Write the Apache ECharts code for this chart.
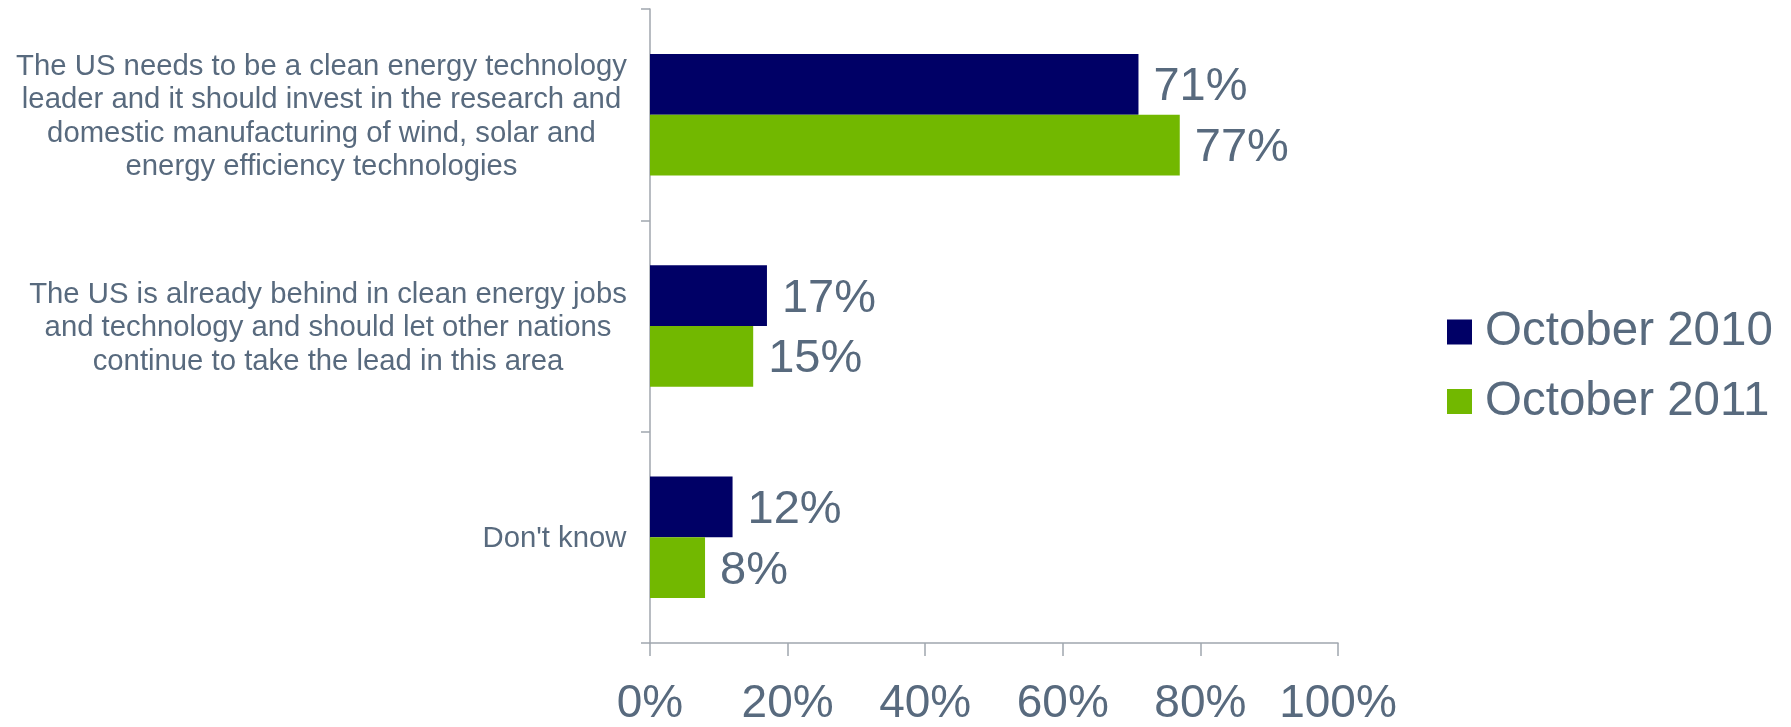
<!DOCTYPE html>
<html>
<head>
<meta charset="utf-8">
<script src="https://cdn.jsdelivr.net/npm/echarts@6/dist/echarts.min.js"></script>
<style>
  html, body { margin: 0; padding: 0; background: #ffffff; }
  #chart { width: 1791px; height: 727px; }
</style>
</head>
<body>
<div id="chart"></div>
<script>
// Survey answers (top to bottom), with explicit line breaks
const categories = [
  "The US needs to be a clean energy technology\nleader and it should invest in the research and\ndomestic manufacturing of wind, solar and\nenergy efficiency technologies",
  "The US is already behind in clean energy jobs\nand technology and should let other nations\ncontinue to take the lead in this area",
  "Don't know"
];
const seriesNames = ["October 2010", "October 2011"];
const oct2010 = [71, 17, 12];
const oct2011 = [77, 15, 8];
const xTicks = [0, 20, 40, 60, 80, 100];

const FONT = "'Liberation Sans', Arial, Helvetica, sans-serif";
const TEXT = '#586a7e';
const AXIS = '#a0a6ae';
const NAVY = '#000066';
const GREEN = '#72b800';
const CAT_SIZE = 29.3;

// Each category label is a right-aligned block whose lines are centred
// within the block; the block width is the widest line of that label.
const ctx = document.createElement('canvas').getContext('2d');
ctx.font = CAT_SIZE + "px 'Liberation Sans'";
const rich = {};
categories.forEach((c, i) => {
  const w = Math.max(...c.split('\n').map(s => ctx.measureText(s).width));
  rich['l' + i] = {
    width: Math.ceil(w) + 2,
    align: 'center',
    fontSize: CAT_SIZE,
    lineHeight: 33.5,
    fontFamily: FONT,
    color: TEXT
  };
});

const chart = echarts.init(document.getElementById('chart'), null, { renderer: 'canvas' });

const labelStyle = {
  show: true,
  position: 'right',
  distance: 15,
  offset: [0, 3],
  formatter: '{c}%',
  fontSize: 47,
  fontFamily: FONT,
  color: TEXT
};

chart.setOption({
  animation: false,
  backgroundColor: '#ffffff',
  grid: { left: 650, right: 453, top: 9, bottom: 77, containLabel: false },
  legend: {
    orient: 'vertical',
    left: 1447,
    top: 308,
    padding: 0,
    itemWidth: 25,
    itemHeight: 25,
    itemGap: 21.5,
    icon: 'rect',
    textStyle: { fontSize: 47.5, fontFamily: FONT, color: TEXT, padding: [0, 0, 0, 8] },
    data: seriesNames
  },
  xAxis: {
    type: 'value',
    min: xTicks[0],
    max: xTicks[xTicks.length - 1],
    interval: xTicks[1] - xTicks[0],
    axisLine: { show: true, lineStyle: { color: AXIS, width: 1.5 } },
    axisTick: { show: true, length: 13, lineStyle: { color: AXIS, width: 1.5 } },
    splitLine: { show: false },
    axisLabel: {
      margin: 38,
      fontSize: 46,
      fontFamily: FONT,
      color: TEXT,
      formatter: v => v + '%'
    }
  },
  yAxis: {
    type: 'category',
    inverse: true,
    data: categories,
    axisLine: { show: true, lineStyle: { color: AXIS, width: 1.5 } },
    axisTick: { show: true, length: 9, lineStyle: { color: AXIS, width: 1.5 } },
    axisLabel: {
      margin: 22,
      interval: 0,
      padding: [4, 0, 0, 0],
      rich: rich,
      formatter: (value, idx) => value.split('\n').map(s => '{l' + idx + '|' + s + '}').join('\n')
    }
  },
  series: [
    {
      name: seriesNames[0],
      type: 'bar',
      data: oct2010,
      itemStyle: { color: NAVY },
      barGap: '0%',
      barCategoryGap: '42.5%',
      label: labelStyle
    },
    {
      name: seriesNames[1],
      type: 'bar',
      data: oct2011,
      itemStyle: { color: GREEN },
      barGap: '0%',
      barCategoryGap: '42.5%',
      label: labelStyle
    }
  ]
});
</script>
</body>
</html>
